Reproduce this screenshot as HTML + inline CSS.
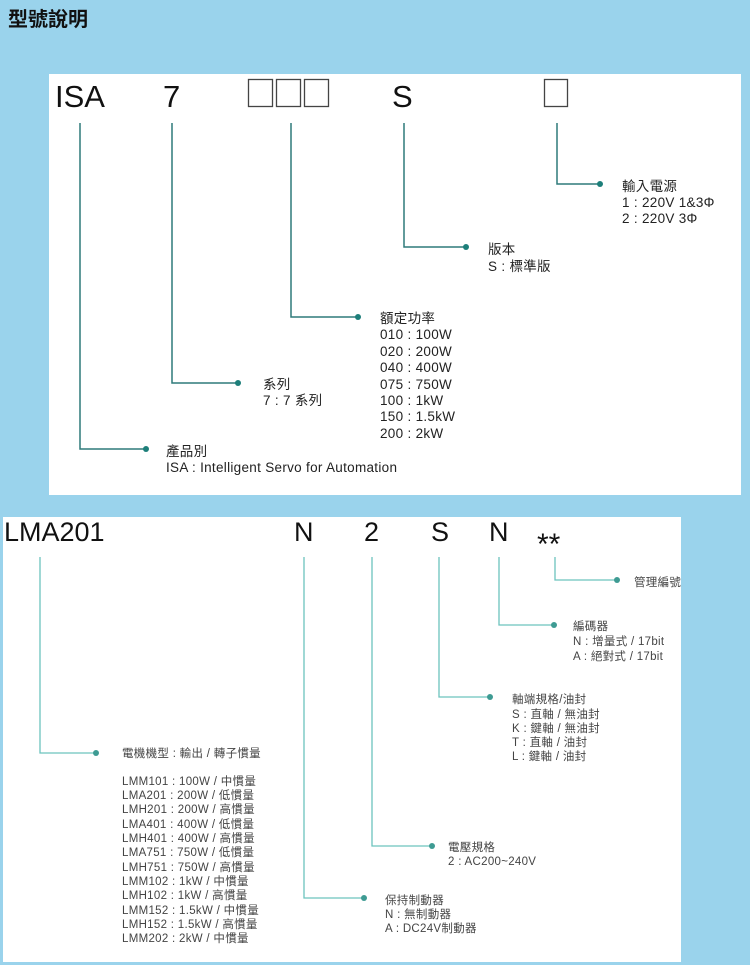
<!DOCTYPE html>
<html><head><meta charset="utf-8"><style>
html,body{margin:0;padding:0;background:#9ad3ec;width:750px;height:965px;overflow:hidden}
svg{display:block}
text{font-family:"Liberation Sans","Noto Sans CJK TC",sans-serif}
</style></head><body>
<svg width="750" height="965" viewBox="0 0 750 965" xmlns="http://www.w3.org/2000/svg">
<rect width="750" height="965" fill="#9ad3ec"/>
<text x="8" y="26" font-size="20" font-weight="bold" fill="#111">型號說明</text>
<rect x="49" y="74" width="692" height="421" fill="#fff"/>
<g font-size="31" fill="#111">
<text x="55" y="107">ISA</text>
<text x="163" y="107">7</text>
<text x="392" y="107">S</text>
</g>
<g fill="none" stroke="#444" stroke-width="1.3">
<rect x="248.5" y="79.5" width="24" height="27"/>
<rect x="276.5" y="79.5" width="24" height="27"/>
<rect x="304.5" y="79.5" width="24" height="27"/>
<rect x="544.5" y="79.5" width="23" height="27"/>
</g>
<g fill="none" stroke="#2f7a7a" stroke-width="1.5">
<polyline points="80,123 80,449 146,449"/>
<polyline points="172,123 172,383 238,383"/>
<polyline points="291,123 291,317 358,317"/>
<polyline points="404,123 404,247 466,247"/>
<polyline points="557,123 557,184 600,184"/>
</g>
<g fill="#1d7f7a">
<circle cx="146" cy="449" r="3"/><circle cx="238" cy="383" r="3"/><circle cx="358" cy="317" r="3"/><circle cx="466" cy="247" r="3"/><circle cx="600" cy="184" r="3"/>
</g>
<g font-size="13.5" fill="#222" letter-spacing="0.3">
<text x="622" y="191">輸入電源</text><text x="622" y="207">1 : 220V 1&amp;3Φ</text><text x="622" y="223">2 : 220V 3Φ</text>
<text x="488" y="254">版本</text><text x="488" y="271">S : 標準版</text>
<text x="380" y="323">額定功率</text>
<text x="380" y="339">010 : 100W</text><text x="380" y="356">020 : 200W</text><text x="380" y="372">040 : 400W</text><text x="380" y="389">075 : 750W</text><text x="380" y="405">100 : 1kW</text><text x="380" y="421">150 : 1.5kW</text><text x="380" y="438">200 : 2kW</text>
<text x="263" y="389">系列</text><text x="263" y="405">7 : 7 系列</text>
<text x="166" y="456">產品別</text><text x="166" y="472">ISA : Intelligent Servo for Automation</text>
</g>
<rect x="3" y="517" width="678" height="445" fill="#fff"/>
<g font-size="27" fill="#111">
<text x="4" y="541">LMA201</text>
<text x="294" y="541">N</text>
<text x="364" y="541">2</text>
<text x="431" y="541">S</text>
<text x="489" y="541">N</text>
<text x="537" y="554" font-size="30">**</text>
</g>
<g fill="none" stroke="#6cc4be" stroke-width="1.3">
<polyline points="40,557 40,753 96,753"/>
<polyline points="304,557 304,898 364,898"/>
<polyline points="372,557 372,846 432,846"/>
<polyline points="439,557 439,697 490,697"/>
<polyline points="499,557 499,625 554,625"/>
<polyline points="555,557 555,580 617,580"/>
</g>
<g fill="#3e9b93">
<circle cx="96" cy="753" r="3"/><circle cx="364" cy="898" r="3"/><circle cx="432" cy="846" r="3"/><circle cx="490" cy="697" r="3"/><circle cx="554" cy="625" r="3"/><circle cx="617" cy="580" r="3"/>
</g>
<g font-size="11.5" fill="#444" letter-spacing="0.3">
<text x="634" y="586">管理編號</text>
<text x="573" y="630">編碼器</text><text x="573" y="645">N : 增量式 / 17bit</text><text x="573" y="660">A : 絕對式 / 17bit</text>
<text x="512" y="703">軸端規格/油封</text><text x="512" y="718">S : 直軸 / 無油封</text><text x="512" y="732">K : 鍵軸 / 無油封</text><text x="512" y="746">T : 直軸 / 油封</text><text x="512" y="760">L : 鍵軸 / 油封</text>
<text x="122" y="757">電機機型 : 輸出 / 轉子慣量</text>
<text x="122" y="785">LMM101 : 100W / 中慣量</text>
<text x="122" y="799">LMA201 : 200W / 低慣量</text>
<text x="122" y="813">LMH201 : 200W / 高慣量</text>
<text x="122" y="828">LMA401 : 400W / 低慣量</text>
<text x="122" y="842">LMH401 : 400W / 高慣量</text>
<text x="122" y="856">LMA751 : 750W / 低慣量</text>
<text x="122" y="871">LMH751 : 750W / 高慣量</text>
<text x="122" y="885">LMM102 : 1kW / 中慣量</text>
<text x="122" y="899">LMH102 : 1kW / 高慣量</text>
<text x="122" y="914">LMM152 : 1.5kW / 中慣量</text>
<text x="122" y="928">LMH152 : 1.5kW / 高慣量</text>
<text x="122" y="942">LMM202 : 2kW / 中慣量</text>
<text x="448" y="851">電壓規格</text><text x="448" y="865">2 :  AC200~240V</text>
<text x="385" y="904">保持制動器</text><text x="385" y="918">N : 無制動器</text><text x="385" y="932">A : DC24V制動器</text>
</g>
</svg>
</body></html>
